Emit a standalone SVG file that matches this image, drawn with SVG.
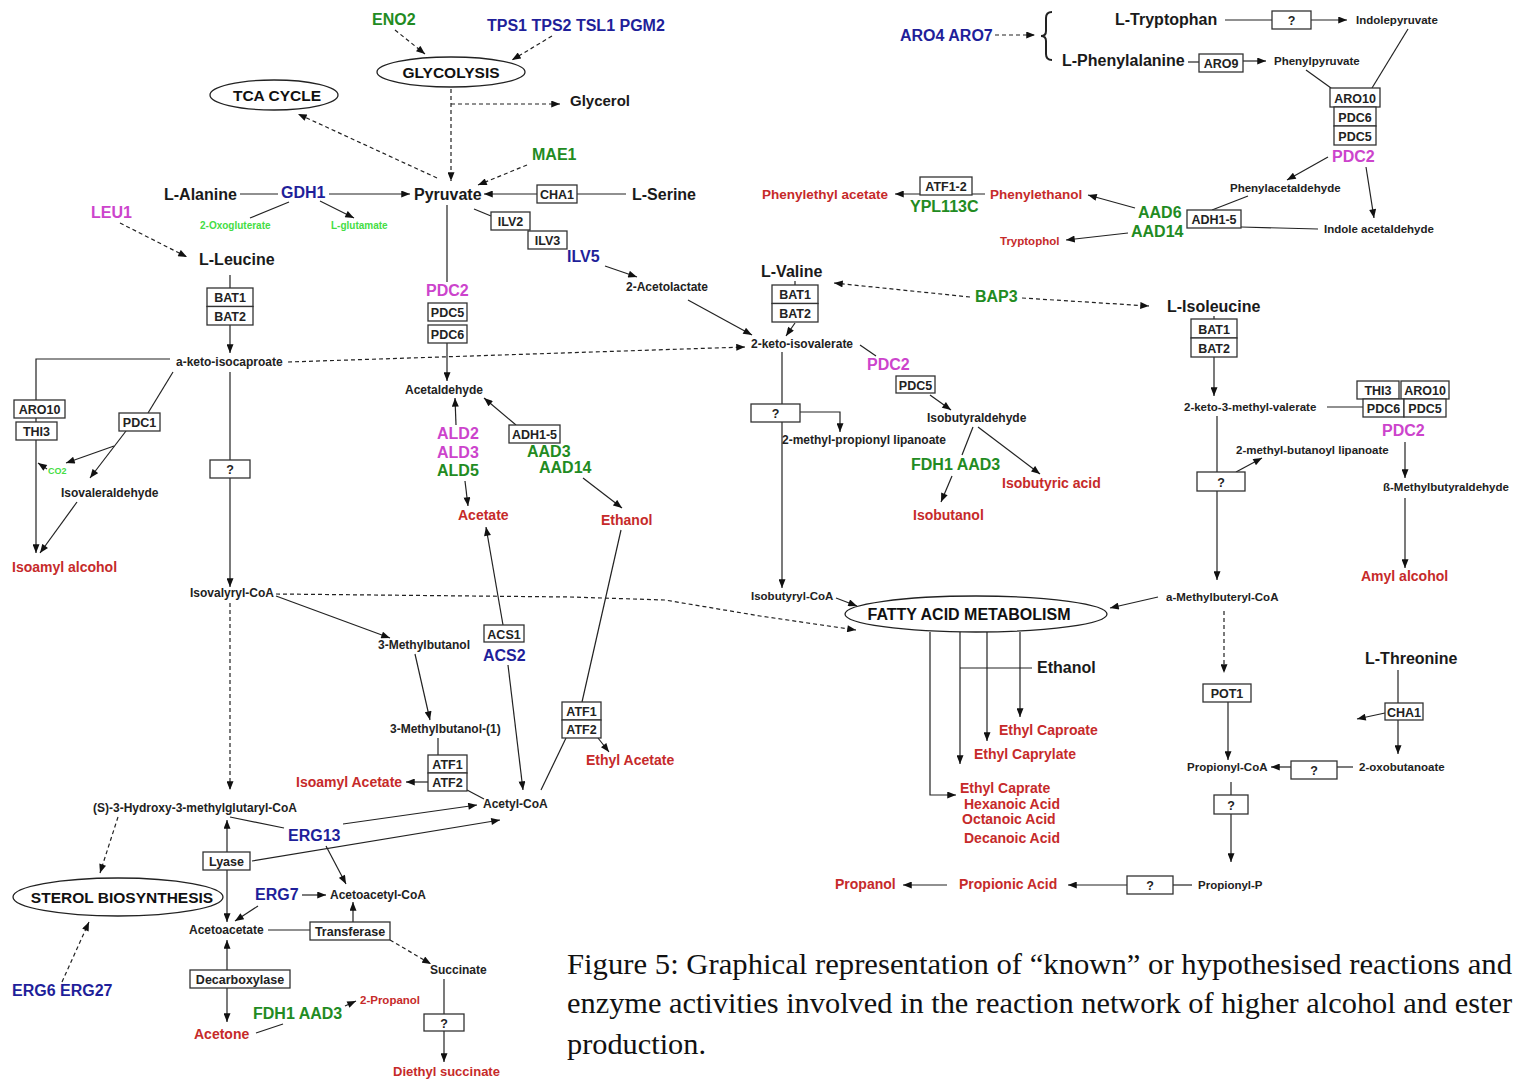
<svg xmlns="http://www.w3.org/2000/svg" width="1520" height="1082" viewBox="0 0 1520 1082">
<defs>
<marker id="ah" viewBox="0 0 10 8" refX="10" refY="4" markerWidth="10" markerHeight="7" markerUnits="userSpaceOnUse" orient="auto-start-reverse"><path d="M0,0 L10,4 L0,8 z" fill="#111"/></marker>
</defs>
<style>
text{font-family:"Liberation Sans",Arial,sans-serif;font-weight:bold}
.n{font-size:16px;fill:#1a1a1a}
.s{font-size:12px;fill:#222}
.r{font-size:14px;fill:#c62a2a}
.rs{font-size:11.5px;fill:#c62a2a}
.g{font-size:16px;fill:#228b22}
.b{font-size:16px;fill:#1f1f9a}
.m{font-size:16px;fill:#cc44cc}
.lg{font-size:10px;fill:#44dd44}
.bx{fill:#fff;stroke:#333;stroke-width:1.3}
.bt{font-size:12.5px;fill:#222;text-anchor:middle}
.el{fill:#fff;stroke:#222;stroke-width:1.3}
.et{font-size:15.5px;fill:#111;text-anchor:middle}
.ln{fill:none;stroke:#222;stroke-width:1.2}
.dl{fill:none;stroke:#222;stroke-width:1.2;stroke-dasharray:4 3}
.ar{marker-end:url(#ah)}
.ab{marker-start:url(#ah);marker-end:url(#ah)}
.cap{font-family:"Liberation Serif","DejaVu Serif",serif;font-weight:normal;font-size:30px;fill:#111}
</style>
<rect width="1520" height="1082" fill="#fff"/>
<g id="connectors">
<path class="dl ar" d="M395,30 L425,54"/>
<path class="dl ar" d="M552,36 L512,60"/>
<path class="dl ar" d="M451,89 L451,181"/>
<path class="dl ar" d="M451,104 L560,104"/>
<path class="dl ar" d="M437,178 L298,114"/>
<path class="dl ar" d="M527,165 L478,185"/>
<path class="ln" d="M240,194 L278,194"/>
<path class="ln ar" d="M329,194 L410,194"/>
<path class="ln" d="M289,202 L250,218"/>
<path class="ln ar" d="M320,201 L354,218"/>
<path class="dl ar" d="M120,223 L187,257"/>
<path class="ln" d="M230,275 L230,288"/>
<path class="ln ar" d="M230,325 L230,353"/>
<path class="ln ar" d="M170,359 L36,359 L36,553"/>
<path class="ln ar" d="M47,469 L38,463"/>
<path class="ln" d="M173,372 L148,413"/>
<path class="ln ar" d="M126,431 L90,478"/>
<path class="ln ar" d="M114,446 L66,463"/>
<path class="ln ar" d="M77,502 L40,553"/>
<path class="ln ar" d="M230,372 L230,587"/>
<path class="dl ar" d="M288,362 L745,347"/>
<path class="dl ar" d="M276,594 L570,597 L665,600 L760,616 L856,630"/>
<path class="dl ar" d="M230,603 L230,790"/>
<path class="ln ar" d="M276,596 L390,638"/>
<path class="ln ar" d="M415,654 L430,720"/>
<path class="ln" d="M438,738 L438,755"/>
<path class="ln ar" d="M428,782 L406,782"/>
<path class="ln" d="M467,790 L484,799"/>
<path class="ln" d="M447,205 L447,282"/>
<path class="ln ar" d="M447,343 L447,381"/>
<path class="ln ar" d="M456,425 L455,398"/>
<path class="ln ar" d="M465,481 L468,506"/>
<path class="ln ar" d="M516,425 L484,398"/>
<path class="ln ar" d="M583,478 L622,508"/>
<path class="ln ar" d="M503,625 L486,527"/>
<path class="ln ar" d="M508,665 L523,790"/>
<path class="ln" d="M621,530 L582,702"/>
<path class="ln" d="M566,738 L541,790"/>
<path class="ln ar" d="M598,738 L609,752"/>
<path class="ln" d="M474,209 L491,216"/>
<path class="ln ar" d="M605,266 L637,277"/>
<path class="ln ar" d="M688,300 L752,335"/>
<path class="ln" d="M626,194 L577,194"/>
<path class="ln ar" d="M537,194 L484,194"/>
<path class="ln" d="M230,817 L284,828"/>
<path class="ln ar" d="M343,824 L477,805"/>
<path class="ln ar" d="M252,861 L500,820"/>
<path class="ln ar" d="M326,846 L346,884"/>
<path class="ln ab" d="M227,922 L227,820"/>
<path class="dl ar" d="M118,817 L100,873"/>
<path class="dl ar" d="M62,982 L89,922"/>
<path class="ln ar" d="M302,895 L326,895"/>
<path class="ln ar" d="M258,906 L235,921"/>
<path class="ln" d="M268,930 L310,930"/>
<path class="ln ar" d="M353,922 L353,902"/>
<path class="dl ar" d="M390,940 L431,964"/>
<path class="ln" d="M444,979 L444,1014"/>
<path class="ln ar" d="M444,1031 L444,1062"/>
<path class="ln ab" d="M227,940 L227,1022"/>
<path class="ln" d="M256,1033 L283,1024"/>
<path class="ln ar" d="M345,1006 L356,1001"/>
<path class="ln" d="M795,281 L795,285"/>
<path class="ln ar" d="M795,323 L786,336"/>
<path class="dl ar" d="M970,297 L834,283"/>
<path class="dl ar" d="M1022,298 L1149,306"/>
<path class="ln ar" d="M782,352 L782,588"/>
<path class="ln ar" d="M800,412 L840,412 L840,432"/>
<path class="ln" d="M860,345 L876,356"/>
<path class="ln ar" d="M930,395 L951,410"/>
<path class="ln" d="M973,427 L962,455"/>
<path class="ln ar" d="M952,476 L941,502"/>
<path class="ln ar" d="M978,427 L1040,474"/>
<path class="ln ar" d="M836,598 L857,606"/>
<path class="ln ar" d="M1158,597 L1110,608"/>
<path class="ln ar" d="M930,632 L930,795 L956,795"/>
<path class="ln ar" d="M960,632 L960,764"/>
<path class="ln ar" d="M987,632 L987,741"/>
<path class="ln ar" d="M1020,632 L1020,717"/>
<path class="ln" d="M960,668 L1032,668"/>
<path class="ln ar" d="M947,885 L903,885"/>
<path class="ln ar" d="M1127,885 L1068,885"/>
<path class="ln" d="M1192,885 L1173,885"/>
<path class="dl ar" d="M995,35 L1035,35"/>
<path class="ln" d="M1052,12 Q1046,12 1046,18 L1046,31 Q1046,36 1041,36 Q1046,36 1046,41 L1046,54 Q1046,60 1052,60" style="stroke-width:2"/>
<path class="ln" d="M1225,20 L1272,20"/>
<path class="ln ar" d="M1311,20 L1347,20"/>
<path class="ln" d="M1188,62 L1199,62"/>
<path class="ln ar" d="M1243,61 L1266,61"/>
<path class="ln" d="M1306,70 L1331,88"/>
<path class="ln" d="M1408,29 L1372,88"/>
<path class="ln ar" d="M1328,157 L1287,180"/>
<path class="ln ar" d="M1366,167 L1374,218"/>
<path class="ln" d="M1248,196 L1212,210"/>
<path class="ln" d="M1241,227 L1318,229"/>
<path class="ln ar" d="M1135,208 L1088,195"/>
<path class="ln ar" d="M1128,233 L1066,240"/>
<path class="ln ar" d="M985,194 L895,194"/>
<path class="ln" d="M1214,316 L1214,319"/>
<path class="ln ar" d="M1214,357 L1214,396"/>
<path class="ln" d="M1327,407 L1364,407"/>
<path class="ln ar" d="M1405,442 L1405,478"/>
<path class="ln ar" d="M1405,498 L1405,568"/>
<path class="ln ar" d="M1217,416 L1217,580"/>
<path class="ln ar" d="M1236,472 L1262,458"/>
<path class="dl ar" d="M1224,611 L1224,673"/>
<path class="ln ar" d="M1228,702 L1228,760"/>
<path class="ln" d="M1398,670 L1398,703"/>
<path class="ln ar" d="M1385,713 L1357,719"/>
<path class="ln ar" d="M1398,720 L1398,754"/>
<path class="ln" d="M1353,767 L1337,767"/>
<path class="ln ar" d="M1291,767 L1271,767"/>
<path class="ln" d="M1231,782 L1231,795"/>
<path class="ln ar" d="M1231,814 L1231,862"/>
</g>
<g id="n-eno2"><text class="g" x="372" y="25">ENO2</text></g>
<g id="n-tps"><text class="b" x="487" y="31">TPS1 TPS2 TSL1 PGM2</text></g>
<g id="n-glycolysis"><ellipse class="el" cx="451" cy="72" rx="74" ry="15"/><text class="et" x="451" y="78">GLYCOLYSIS</text></g>
<g id="n-glycerol"><text class="n" x="570" y="106" style="font-size:15px">Glycerol</text></g>
<g id="n-tca"><ellipse class="el" cx="274" cy="95" rx="64" ry="15"/><text class="et" x="277" y="101">TCA CYCLE</text></g>
<g id="n-mae1"><text class="g" x="532" y="160">MAE1</text></g>
<g id="n-pyruvate"><text class="n" x="414" y="200">Pyruvate</text></g>
<g id="n-alanine"><text class="n" x="164" y="200">L-Alanine</text></g>
<g id="n-gdh1"><text class="b" x="281" y="198">GDH1</text></g>
<g id="n-oxo"><text class="lg" x="200" y="229">2-Oxogluterate</text></g>
<g id="n-glut"><text class="lg" x="331" y="229">L-glutamate</text></g>
<g id="n-leu1"><text class="m" x="91" y="218">LEU1</text></g>
<g id="n-leucine"><text class="n" x="199" y="265">L-Leucine</text></g>
<g id="n-serine"><text class="n" x="632" y="200">L-Serine</text></g>
<g id="n-cha1a"><rect class="bx" x="537" y="185" width="40" height="18"/><text class="bt" x="557" y="199">CHA1</text></g>
<g id="n-ilv2"><rect class="bx" x="491" y="212" width="39" height="18"/><text class="bt" x="510.5" y="226">ILV2</text></g>
<g id="n-ilv3"><rect class="bx" x="528" y="231" width="39" height="18"/><text class="bt" x="547.5" y="245">ILV3</text></g>
<g id="n-ilv5"><text class="b" x="567" y="262">ILV5</text></g>
<g id="n-acetolactate"><text class="s" x="626" y="291">2-Acetolactate</text></g>
<g id="n-pdc2a"><text class="m" x="426" y="296">PDC2</text></g>
<g id="n-pdc56a"><rect class="bx" x="428" y="303" width="39" height="18"/><text class="bt" x="447.5" y="317">PDC5</text><rect class="bx" x="428" y="325" width="39" height="18"/><text class="bt" x="447.5" y="339">PDC6</text></g>
<g id="n-bat-leu"><rect class="bx" x="207" y="288" width="46" height="18.5"/><text class="bt" x="230" y="302">BAT1</text><rect class="bx" x="207" y="306.5" width="46" height="18.5"/><text class="bt" x="230" y="320.5">BAT2</text></g>
<g id="n-kic"><text class="s" x="176" y="366">a-keto-isocaproate</text></g>
<g id="n-aro10a"><rect class="bx" x="14" y="400" width="51" height="18"/><text class="bt" x="39.5" y="414">ARO10</text></g>
<g id="n-thi3a"><rect class="bx" x="16" y="422" width="41" height="18"/><text class="bt" x="36.5" y="436">THI3</text></g>
<g id="n-pdc1"><rect class="bx" x="119" y="413" width="41" height="18"/><text class="bt" x="139.5" y="427">PDC1</text></g>
<g id="n-co2"><text class="lg" x="48" y="474" style="font-size:9px">CO2</text></g>
<g id="n-isovaleraldehyde"><text class="s" x="61" y="497">Isovaleraldehyde</text></g>
<g id="n-isoamylalc"><text class="r" x="12" y="572">Isoamyl alcohol</text></g>
<g id="n-q1"><rect class="bx" x="210" y="460" width="40" height="18"/><text class="bt" x="230" y="474">?</text></g>
<g id="n-isovalyryl"><text class="s" x="190" y="597">Isovalyryl-CoA</text></g>
<g id="n-acetaldehyde"><text class="s" x="405" y="394">Acetaldehyde</text></g>
<g id="n-ald"><text class="m" x="437" y="439">ALD2</text><text class="m" x="437" y="458">ALD3</text><text class="g" x="437" y="476">ALD5</text></g>
<g id="n-acetate"><text class="r" x="458" y="520">Acetate</text></g>
<g id="n-adh15a"><rect class="bx" x="509" y="425" width="51" height="18"/><text class="bt" x="534.5" y="439">ADH1-5</text></g>
<g id="n-aad3a"><text class="g" x="527" y="457">AAD3</text><text class="g" x="539" y="473">AAD14</text></g>
<g id="n-ethanol"><text class="r" x="601" y="525">Ethanol</text></g>
<g id="n-3mb"><text class="s" x="378" y="649">3-Methylbutanol</text></g>
<g id="n-acs"><rect class="bx" x="484" y="625" width="40" height="17"/><text class="bt" x="504" y="638.5">ACS1</text><text class="b" x="483" y="661">ACS2</text></g>
<g id="n-3mb1"><text class="s" x="390" y="733">3-Methylbutanol-(1)</text></g>
<g id="n-atf-a"><rect class="bx" x="428" y="755" width="39" height="18"/><text class="bt" x="447.5" y="769">ATF1</text><rect class="bx" x="428" y="773" width="39" height="18"/><text class="bt" x="447.5" y="787">ATF2</text></g>
<g id="n-isoamylac"><text class="r" x="296" y="787">Isoamyl Acetate</text></g>
<g id="n-atf-b"><rect class="bx" x="562" y="702" width="39" height="18"/><text class="bt" x="581.5" y="716">ATF1</text><rect class="bx" x="562" y="720" width="39" height="18"/><text class="bt" x="581.5" y="734">ATF2</text></g>
<g id="n-ethylac"><text class="r" x="586" y="765">Ethyl Acetate</text></g>
<g id="n-acetylcoa"><text class="s" x="483" y="808">Acetyl-CoA</text></g>
<g id="n-hmg"><text class="s" x="93" y="812">(S)-3-Hydroxy-3-methylglutaryl-CoA</text></g>
<g id="n-erg13"><text class="b" x="288" y="841">ERG13</text></g>
<g id="n-lyase"><rect class="bx" x="203" y="852" width="47" height="18"/><text class="bt" x="226.5" y="866">Lyase</text></g>
<g id="n-sterol"><ellipse class="el" cx="118" cy="897" rx="105" ry="19"/><text class="et" x="122" y="903">STEROL BIOSYNTHESIS</text></g>
<g id="n-erg7"><text class="b" x="255" y="900">ERG7</text></g>
<g id="n-acetoacetylcoa"><text class="s" x="330" y="899">Acetoacetyl-CoA</text></g>
<g id="n-acetoacetate"><text class="s" x="189" y="934">Acetoacetate</text></g>
<g id="n-transferase"><rect class="bx" x="310" y="922" width="80" height="18"/><text class="bt" x="350" y="936">Transferase</text></g>
<g id="n-succinate"><text class="s" x="430" y="974">Succinate</text></g>
<g id="n-decarboxylase"><rect class="bx" x="190" y="970" width="100" height="18"/><text class="bt" x="240" y="984">Decarboxylase</text></g>
<g id="n-erg6"><text class="b" x="12" y="996">ERG6 ERG27</text></g>
<g id="n-acetone"><text class="r" x="194" y="1039">Acetone</text></g>
<g id="n-fdh1b"><text class="g" x="253" y="1019">FDH1 AAD3</text></g>
<g id="n-propanol2"><text class="rs" x="360" y="1004">2-Propanol</text></g>
<g id="n-q2"><rect class="bx" x="424" y="1014" width="40" height="17"/><text class="bt" x="444" y="1027.5">?</text></g>
<g id="n-diethyl"><text class="r" x="393" y="1076" style="font-size:13px">Diethyl succinate</text></g>
<g id="n-aro47"><text class="b" x="900" y="41">ARO4 ARO7</text></g>
<g id="n-trp"><text class="n" x="1115" y="25">L-Tryptophan</text></g>
<g id="n-q3"><rect class="bx" x="1272" y="11" width="39" height="18"/><text class="bt" x="1291.5" y="25">?</text></g>
<g id="n-indolepyr"><text class="s" x="1356" y="24" style="font-size:11.5px">Indolepyruvate</text></g>
<g id="n-phe"><text class="n" x="1062" y="66">L-Phenylalanine</text></g>
<g id="n-aro9"><rect class="bx" x="1199" y="54" width="44" height="18"/><text class="bt" x="1221" y="68">ARO9</text></g>
<g id="n-phenylpyr"><text class="s" x="1274" y="65" style="font-size:11.5px">Phenylpyruvate</text></g>
<g id="n-aro10b"><rect class="bx" x="1330" y="88" width="50" height="19"/><text class="bt" x="1355" y="102.5">ARO10</text><rect class="bx" x="1334" y="107" width="42" height="19"/><text class="bt" x="1355" y="121.5">PDC6</text><rect class="bx" x="1334" y="126" width="42" height="19"/><text class="bt" x="1355" y="140.5">PDC5</text></g>
<g id="n-pdc2b"><text class="m" x="1332" y="162">PDC2</text></g>
<g id="n-phenylacet"><text class="s" x="1230" y="192" style="font-size:11.5px">Phenylacetaldehyde</text></g>
<g id="n-indoleacet"><text class="s" x="1324" y="233" style="font-size:11.5px">Indole acetaldehyde</text></g>
<g id="n-adh15b"><rect class="bx" x="1187" y="210" width="54" height="18"/><text class="bt" x="1214" y="224">ADH1-5</text></g>
<g id="n-aad6"><text class="g" x="1138" y="218">AAD6</text><text class="g" x="1131" y="237">AAD14</text></g>
<g id="n-phenylethanol"><text class="r" x="990" y="199" style="font-size:13.5px">Phenylethanol</text></g>
<g id="n-tryptophol"><text class="rs" x="1000" y="245">Tryptophol</text></g>
<g id="n-atf12"><rect class="bx" x="920" y="177" width="52" height="18"/><text class="bt" x="946" y="191">ATF1-2</text><text class="g" x="910" y="212">YPL113C</text></g>
<g id="n-phenylethylac"><text class="r" x="762" y="199" style="font-size:13.5px">Phenylethyl acetate</text></g>
<g id="n-valine"><text class="n" x="761" y="277">L-Valine</text></g>
<g id="n-bat-val"><rect class="bx" x="772" y="285" width="46" height="18.5"/><text class="bt" x="795" y="299">BAT1</text><rect class="bx" x="772" y="303.5" width="46" height="18.5"/><text class="bt" x="795" y="317.5">BAT2</text></g>
<g id="n-kiv"><text class="s" x="751" y="348">2-keto-isovalerate</text></g>
<g id="n-bap3"><text class="g" x="975" y="302">BAP3</text></g>
<g id="n-ile"><text class="n" x="1167" y="312">L-Isoleucine</text></g>
<g id="n-bat-ile"><rect class="bx" x="1191" y="319" width="46" height="19"/><text class="bt" x="1214" y="333.5">BAT1</text><rect class="bx" x="1191" y="338" width="46" height="19"/><text class="bt" x="1214" y="352.5">BAT2</text></g>
<g id="n-q4"><rect class="bx" x="751" y="404" width="49" height="18"/><text class="bt" x="775.5" y="418">?</text></g>
<g id="n-2mpl"><text class="s" x="782" y="444">2-methyl-propionyl lipanoate</text></g>
<g id="n-pdc2c"><text class="m" x="867" y="370">PDC2</text></g>
<g id="n-pdc5c"><rect class="bx" x="896" y="376" width="39" height="17"/><text class="bt" x="915.5" y="389.5">PDC5</text></g>
<g id="n-isobutyrald"><text class="s" x="927" y="422">Isobutyraldehyde</text></g>
<g id="n-fdh1a"><text class="g" x="911" y="470">FDH1 AAD3</text></g>
<g id="n-isobutanol"><text class="r" x="913" y="520">Isobutanol</text></g>
<g id="n-isobutyric"><text class="r" x="1002" y="488">Isobutyric acid</text></g>
<g id="n-isobutyrylcoa"><text class="s" x="751" y="600" style="font-size:11.5px">Isobutyryl-CoA</text></g>
<g id="n-fatty"><ellipse class="el" cx="976" cy="614" rx="131" ry="18"/><text class="et" x="969" y="620" style="font-size:16px">FATTY ACID METABOLISM</text></g>
<g id="n-ethanol2"><text class="n" x="1037" y="673">Ethanol</text></g>
<g id="n-esters"><text class="r" x="999" y="735">Ethyl Caproate</text><text class="r" x="974" y="759">Ethyl Caprylate</text><text class="r" x="960" y="793">Ethyl Caprate</text><text class="r" x="964" y="809">Hexanoic Acid</text><text class="r" x="962" y="824">Octanoic Acid</text><text class="r" x="964" y="843">Decanoic Acid</text></g>
<g id="n-propanol"><text class="r" x="835" y="889">Propanol</text></g>
<g id="n-propionic"><text class="r" x="959" y="889">Propionic Acid</text></g>
<g id="n-q5"><rect class="bx" x="1127" y="876" width="46" height="18"/><text class="bt" x="1150" y="890">?</text></g>
<g id="n-propionylp"><text class="s" x="1198" y="889" style="font-size:11.5px">Propionyl-P</text></g>
<g id="n-k3mv"><text class="s" x="1184" y="411" style="font-size:11.5px">2-keto-3-methyl-valerate</text></g>
<g id="n-pdc-ile"><rect class="bx" x="1357" y="381" width="42" height="18"/><text class="bt" x="1378" y="395">THI3</text><rect class="bx" x="1401" y="381" width="48" height="18"/><text class="bt" x="1425" y="395">ARO10</text><rect class="bx" x="1363" y="399" width="41" height="18"/><text class="bt" x="1383.5" y="413">PDC6</text><rect class="bx" x="1404" y="399" width="42" height="18"/><text class="bt" x="1425" y="413">PDC5</text></g>
<g id="n-pdc2d"><text class="m" x="1382" y="436">PDC2</text></g>
<g id="n-2mbl"><text class="s" x="1236" y="454" style="font-size:11.5px">2-methyl-butanoyl lipanoate</text></g>
<g id="n-q6"><rect class="bx" x="1197" y="472" width="48" height="19"/><text class="bt" x="1221" y="486.5">?</text></g>
<g id="n-bmb"><text class="s" x="1383" y="491" style="font-size:11.5px">ß-Methylbutyraldehyde</text></g>
<g id="n-amyl"><text class="r" x="1361" y="581">Amyl alcohol</text></g>
<g id="n-amb"><text class="s" x="1166" y="601" style="font-size:11.5px">a-Methylbuteryl-CoA</text></g>
<g id="n-pot1"><rect class="bx" x="1203" y="684" width="48" height="18"/><text class="bt" x="1227" y="698">POT1</text></g>
<g id="n-thr"><text class="n" x="1365" y="664">L-Threonine</text></g>
<g id="n-cha1b"><rect class="bx" x="1385" y="703" width="38" height="17"/><text class="bt" x="1404" y="716.5">CHA1</text></g>
<g id="n-propionylcoa"><text class="s" x="1187" y="771" style="font-size:11.5px">Propionyl-CoA</text></g>
<g id="n-q7"><rect class="bx" x="1291" y="761" width="46" height="18"/><text class="bt" x="1314" y="775">?</text></g>
<g id="n-oxobut"><text class="s" x="1359" y="771" style="font-size:11.5px">2-oxobutanoate</text></g>
<g id="n-q8"><rect class="bx" x="1214" y="795" width="34" height="19"/><text class="bt" x="1231" y="809.5">?</text></g>
<g id="caption">
<text class="cap" x="567" y="974" textLength="945" lengthAdjust="spacingAndGlyphs">Figure 5: Graphical representation of “known” or hypothesised reactions and</text>
<text class="cap" x="567" y="1013" textLength="945" lengthAdjust="spacingAndGlyphs">enzyme activities involved in the reaction network of higher alcohol and ester</text>
<text class="cap" x="567" y="1054" textLength="139" lengthAdjust="spacingAndGlyphs">production.</text>
</g>
</svg>
